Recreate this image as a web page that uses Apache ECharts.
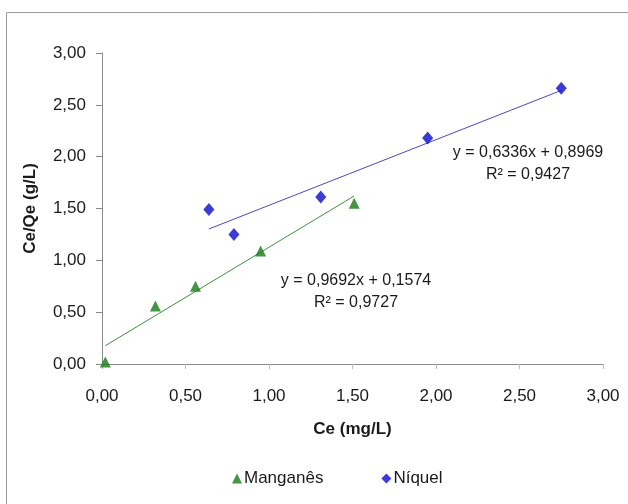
<!DOCTYPE html>
<html>
<head>
<meta charset="utf-8">
<script src="https://cdn.jsdelivr.net/npm/echarts@6/dist/echarts.min.js"></script>
<style>
html,body{margin:0;padding:0;background:#fff;}
#c{width:628px;height:504px;}
</style>
</head>
<body>
<div id="c"></div>
<script>
// Data
const seriesNames = ['Manganês', 'Níquel'];
const mnX = [0.02, 0.32, 0.56, 0.95, 1.51];
const mnY = [0.02, 0.56, 0.75, 1.09, 1.55];
const niX = [0.64, 0.79, 1.31, 1.95, 2.75];
const niY = [1.49, 1.25, 1.61, 2.18, 2.66];
// Trendline equations shown on the chart
const slopes = [0.9692, 0.6336];
const intercepts = [0.1574, 0.8969];
const r2 = [0.9727, 0.9427];
const xTicks = [0, 0.5, 1, 1.5, 2, 2.5, 3];
const yTicks = [0, 0.5, 1, 1.5, 2, 2.5, 3];

const fmt = (v, d) => v.toFixed(d).replace('.', ',');
const pairs = (xs, ys) => xs.map((x, i) => [x, ys[i]]);
const trend = (xs, k) => {
  const lo = Math.min(...xs), hi = Math.max(...xs);
  return [[lo, slopes[k] * lo + intercepts[k]], [hi, slopes[k] * hi + intercepts[k]]];
};

const FONT = '"Liberation Sans", Arial, sans-serif';
const TXT = '#1a1a1a';

const chart = echarts.init(document.getElementById('c'));
chart.setOption({
  animation: false,
  backgroundColor: '#fff',
  grid: { left: 102, right: 25, top: 53, bottom: 140, containLabel: false },
  xAxis: {
    type: 'value', min: xTicks[0], max: xTicks[xTicks.length - 1], interval: 0.5,
    name: 'Ce (mg/L)', nameLocation: 'middle', nameGap: 57,
    nameTextStyle: { fontFamily: FONT, fontWeight: 'bold', fontSize: 17, color: TXT },
    axisLine: { lineStyle: { color: '#8a8a8a', width: 1 } },
    axisTick: { show: true, inside: false, length: 5, lineStyle: { color: '#bdbdbd' } },
    splitLine: { show: false },
    axisLabel: { margin: 24, fontFamily: FONT, fontSize: 17, color: TXT, formatter: v => fmt(v, 2) }
  },
  yAxis: {
    type: 'value', min: yTicks[0], max: yTicks[yTicks.length - 1], interval: 0.5,
    name: 'Ce/Qe (g/L)', nameLocation: 'middle', nameGap: 63, nameRotate: 90,
    nameTextStyle: { fontFamily: FONT, fontWeight: 'bold', fontSize: 17, color: TXT },
    axisLine: { show: true, lineStyle: { color: '#8a8a8a', width: 1 } },
    axisTick: { show: true, inside: false, length: 6, lineStyle: { color: '#8a8a8a' } },
    splitLine: { show: false },
    axisLabel: { margin: 16, fontFamily: FONT, fontSize: 17, color: TXT, formatter: v => fmt(v, 2) }
  },
  legend: {
    data: seriesNames, bottom: 12, left: 227, itemGap: 58,
    itemWidth: 10, itemHeight: 10,
    textStyle: { fontFamily: FONT, fontSize: 17, color: TXT, padding: [0, 0, 0, -3] }
  },
  series: [
    { name: 'trend-mn', type: 'line', data: trend(mnX, 0), showSymbol: false, symbol: 'none',
      lineStyle: { color: '#3f8f3f', width: 1 }, z: 1, silent: true },
    { name: 'trend-ni', type: 'line', data: trend(niX, 1), showSymbol: false, symbol: 'none',
      lineStyle: { color: '#4a48c0', width: 1 }, z: 1, silent: true },
    { name: seriesNames[0], type: 'scatter', data: pairs(mnX, mnY), symbol: 'triangle', symbolSize: 11,
      itemStyle: { color: '#157a15' }, z: 3 },
    { name: seriesNames[1], type: 'scatter', data: pairs(niX, niY), symbol: 'diamond', symbolSize: [11, 13],
      itemStyle: { color: '#0a0acc' }, z: 3 }
  ],
  graphic: [
    { type: 'rect', shape: { x: 6.5, y: 12.5, width: 700, height: 600 },
      style: { fill: 'none', stroke: '#9a9a9a', lineWidth: 1 }, silent: true, z: -1 },
    { type: 'text', x: 356, y: 281, style: { text: 'y = ' + fmt(slopes[0], 4) + 'x + ' + fmt(intercepts[0], 4),
      font: '16px ' + FONT, fill: TXT, align: 'center', verticalAlign: 'middle' } },
    { type: 'text', x: 356, y: 303, style: { text: 'R² = ' + fmt(r2[0], 4),
      font: '16px ' + FONT, fill: TXT, align: 'center', verticalAlign: 'middle' } },
    { type: 'text', x: 528, y: 153, style: { text: 'y = ' + fmt(slopes[1], 4) + 'x + ' + fmt(intercepts[1], 4),
      font: '16px ' + FONT, fill: TXT, align: 'center', verticalAlign: 'middle' } },
    { type: 'text', x: 528, y: 175, style: { text: 'R² = ' + fmt(r2[1], 4),
      font: '16px ' + FONT, fill: TXT, align: 'center', verticalAlign: 'middle' } }
  ]
});
</script>
</body>
</html>
